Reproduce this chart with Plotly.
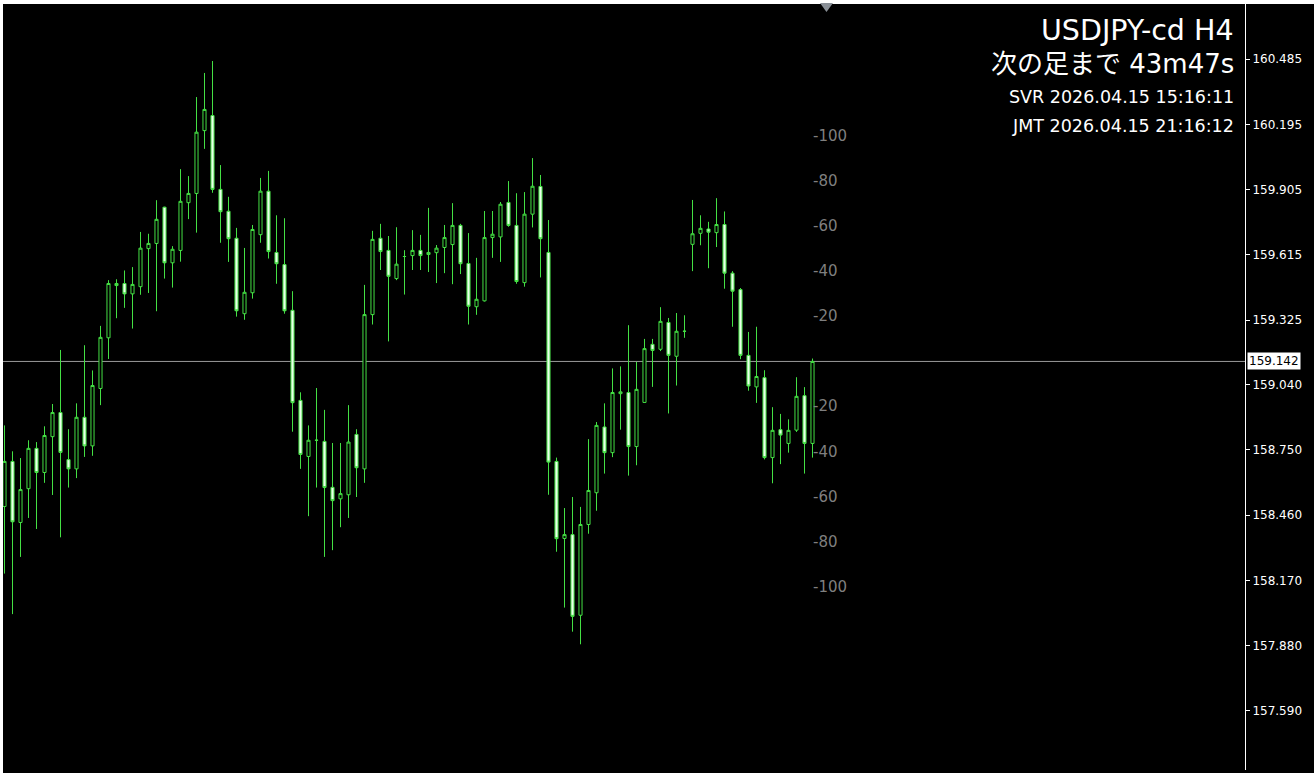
import plotly.graph_objects as go

# ---- data (USDJPY-cd, H4) ----
opens = [158.498, 158.698, 158.427, 158.577, 158.756, 158.649, 158.808, 158.915, 158.706, 158.665,
         158.894, 158.767, 159.022, 159.247, 159.479, 159.488, 159.442, 159.474, 159.643, 159.666,
         159.827, 159.580, 159.635, 159.847, 159.888, 160.167, 160.234, 159.906, 159.809, 159.689,
         159.354, 159.447, 159.705, 159.898, 159.626, 159.572, 159.369, 158.969, 158.720, 158.792,
         158.787, 158.583, 158.532, 158.550, 158.818, 158.665, 159.350, 159.689, 159.635, 159.510,
         159.608, 159.612, 159.635, 159.617, 159.625, 159.648, 159.661, 159.746, 159.577, 159.385,
         159.411, 159.692, 159.695, 159.848, 159.746, 159.492, 159.796, 159.919, 159.626, 158.698,
         158.356, 158.373, 158.015, 158.418, 158.559, 158.851, 158.737, 158.999, 159.004, 158.764,
         158.960, 159.218, 159.196, 159.315, 159.165, 159.276, 159.662, 159.711, 159.730, 159.714,
         159.750, 159.534, 159.461, 159.169, 159.029, 159.070, 158.715, 158.839, 158.778, 158.837,
         158.990, 158.778]
highs = [158.858, 158.743, 158.713, 158.792, 158.784, 158.854, 158.953, 159.193, 158.841, 158.956,
         159.214, 159.102, 159.300, 159.503, 159.507, 159.546, 159.561, 159.717, 159.709, 159.858,
         159.829, 159.654, 159.996, 159.965, 160.316, 160.423, 160.476, 160.014, 159.873, 159.735,
         159.646, 159.748, 159.957, 159.988, 159.791, 159.778, 159.454, 159.005, 158.858, 159.024,
         158.927, 158.780, 158.780, 158.948, 158.841, 159.482, 159.722, 159.753, 159.699, 159.738,
         159.636, 159.725, 159.704, 159.824, 159.659, 159.748, 159.845, 159.753, 159.712, 159.602,
         159.810, 159.810, 159.850, 159.943, 159.889, 159.894, 160.045, 159.970, 159.770, 158.715,
         158.491, 158.540, 158.496, 158.797, 158.873, 158.956, 159.111, 159.120, 159.303, 159.140,
         159.242, 159.242, 159.383, 159.335, 159.357, 159.347, 159.859, 159.791, 159.762, 159.867,
         159.808, 159.543, 159.468, 159.273, 159.296, 159.103, 158.939, 158.909, 158.885, 159.072,
         159.028, 159.155]
lows = [158.200, 158.020, 158.274, 158.447, 158.398, 158.603, 158.549, 158.361, 158.582, 158.624,
        158.718, 158.723, 158.948, 159.153, 159.334, 159.380, 159.288, 159.438, 159.446, 159.365,
        159.510, 159.470, 159.585, 159.774, 159.714, 160.086, 159.891, 159.669, 159.584, 159.341,
        159.327, 159.421, 159.669, 159.599, 159.487, 159.354, 158.830, 158.665, 158.455, 158.582,
        158.274, 158.304, 158.406, 158.447, 158.540, 158.603, 159.306, 159.548, 159.231, 159.503,
        159.439, 159.548, 159.548, 159.539, 159.490, 159.534, 159.485, 159.530, 159.306, 159.349,
        159.408, 159.602, 159.584, 159.740, 159.487, 159.474, 159.737, 159.515, 158.550, 158.297,
        158.049, 157.942, 157.886, 158.377, 158.479, 158.644, 158.717, 158.839, 158.635, 158.681,
        158.958, 159.029, 159.188, 158.911, 159.035, 159.247, 159.543, 159.658, 159.556, 159.650,
        159.465, 159.296, 159.152, 159.012, 158.958, 158.707, 158.601, 158.686, 158.737, 158.829,
        158.644, 158.715]
closes = [158.698, 158.430, 158.573, 158.756, 158.649, 158.813, 158.915, 158.738, 158.665, 158.894,
          158.767, 159.035, 159.249, 159.488, 159.488, 159.442, 159.484, 159.645, 159.666, 159.773,
          159.580, 159.640, 159.853, 159.888, 160.160, 160.261, 159.906, 159.807, 159.687, 159.367,
          159.449, 159.728, 159.898, 159.630, 159.576, 159.367, 158.959, 158.729, 158.792, 158.792,
          158.582, 158.524, 158.555, 158.784, 158.670, 159.350, 159.684, 159.630, 159.520, 159.574,
          159.608, 159.635, 159.612, 159.626, 159.645, 159.692, 159.746, 159.576, 159.387, 159.418,
          159.692, 159.707, 159.840, 159.746, 159.497, 159.796, 159.920, 159.687, 158.695, 158.355,
          158.373, 158.010, 158.418, 158.569, 158.858, 158.737, 159.004, 159.007, 158.764, 159.018,
          159.199, 159.191, 159.320, 159.169, 159.276, 159.276, 159.709, 159.733, 159.716, 159.750,
          159.534, 159.454, 159.169, 159.033, 159.075, 158.715, 158.836, 158.815, 158.836, 158.987,
          158.778, 159.142]
bar_index = list(range(len(closes)))

current_price = 159.142
price_ticks = [160.485, 160.195, 159.905, 159.615, 159.325, 159.040,
               158.750, 158.460, 158.170, 157.880, 157.590]
price_tick_text = ["160.485", "160.195", "159.905", "159.615", "159.325", "159.040",
                   "158.750", "158.460", "158.170", "157.880", "157.590"]
pip_steps = [20, 40, 60, 80, 100]
pip_size = 0.01

title_lines = ["USDJPY-cd H4", "次の足まで 43m47s"]
time_lines = ["SVR 2026.04.15 15:16:11", "JMT 2026.04.15 21:16:12"]

# ---- styles ----
GREEN = "#44e044"
BEAR_FILL = "#eaffea"
W, H = 1314, 773
ML, MR, MT, MB = 3, 69, 4, 3
plot_w = W - ML - MR
plot_h = H - MT - MB
px_per_bar = 8.0
px_per_yen = 225.2
first_bar_px = 1.5  # from left edge of plot (pixel-centred for crisp wicks)
x0 = -first_bar_px / px_per_bar
x1 = x0 + plot_w / px_per_bar
y_top = price_ticks[0] + 55 / px_per_yen
y_bot = y_top - plot_h / px_per_yen

fig = go.Figure()
fig.add_trace(go.Candlestick(
    x=bar_index, open=opens, high=highs, low=lows, close=closes,
    increasing=dict(line=dict(color=GREEN, width=1), fillcolor="#000000"),
    decreasing=dict(line=dict(color=GREEN, width=1), fillcolor=BEAR_FILL),
    whiskerwidth=0, hoverinfo="skip", showlegend=False,
))

shapes = [
    dict(type="line", xref="paper", yref="y", x0=0, x1=1, y0=current_price, y1=current_price,
         line=dict(color="#9a9a9a", width=1), layer="below"),
    dict(type="rect", xref="paper", yref="paper", x0=-ML / plot_w, x1=1 + MR / plot_w,
         y0=1, y1=1 + MT / plot_h, fillcolor="#ffffff", line=dict(width=0)),
    dict(type="rect", xref="paper", yref="paper", x0=-ML / plot_w, x1=0,
         y0=-MB / plot_h, y1=1 + MT / plot_h, fillcolor="#ffffff", line=dict(width=0)),
    dict(type="path", xref="paper", yref="paper",
         path="M %f,%f L %f,%f L %f,%f Z" % ((820 - ML) / plot_w, 1 + 1 / plot_h,
                                              (833 - ML) / plot_w, 1 + 1 / plot_h,
                                              (826.5 - ML) / plot_w, 1 - 8 / plot_h),
         fillcolor="#8a9097", line=dict(width=0)),
]

annotations = []
for s in pip_steps:
    for sign in (1, -1):
        annotations.append(dict(
            xref="paper", yref="y", x=(811 - ML) / plot_w, y=current_price + sign * s * pip_size,
            text="-%d" % s, showarrow=False, xanchor="left", yanchor="middle",
            font=dict(family="DejaVu Sans", size=15, color="#7f7f7f")))
annotations.append(dict(
    xref="paper", yref="y", x=1, y=current_price, xanchor="left", yanchor="middle", xshift=2,
    text="159.142", showarrow=False, bgcolor="#ffffff", borderpad=1,
    font=dict(family="DejaVu Sans", size=12, color="#000000")))
hdr_y_px = [30, 64, 97, 126]
hdr_sizes = [28.5, 26, 17.5, 17.5]
for txt, ypx, sz in zip(title_lines + time_lines, hdr_y_px, hdr_sizes):
    annotations.append(dict(
        xref="paper", yref="paper", x=(1236 - ML) / plot_w, y=1 - (ypx - MT) / plot_h,
        xanchor="right", yanchor="middle", text=txt, showarrow=False,
        font=dict(family="DejaVu Sans, Noto Sans CJK JP", size=sz, color="#ffffff")))

fig.update_layout(
    width=W, height=H,
    margin=dict(l=ML, r=MR, t=MT, b=MB, pad=0),
    paper_bgcolor="#000000", plot_bgcolor="#000000",
    boxgap=0.45,
    showlegend=False,
    shapes=shapes, annotations=annotations,
    xaxis=dict(range=[x0, x1], showgrid=False, zeroline=False, showticklabels=False,
               ticks="", showline=False, rangeslider=dict(visible=False), fixedrange=True),
    yaxis=dict(range=[y_bot, y_top], side="right", showgrid=False, zeroline=False,
               tickvals=price_ticks, ticktext=price_tick_text, ticks="outside", ticklen=4,
               tickcolor="#ffffff", showline=True, linecolor="#ffffff", linewidth=1,
               tickfont=dict(family="DejaVu Sans", size=12, color="#ffffff"), fixedrange=True),
)

fig.write_html("out.html", config={"displayModeBar": False},
               post_script="document.body.style.margin='0';document.body.style.background='#000';")
